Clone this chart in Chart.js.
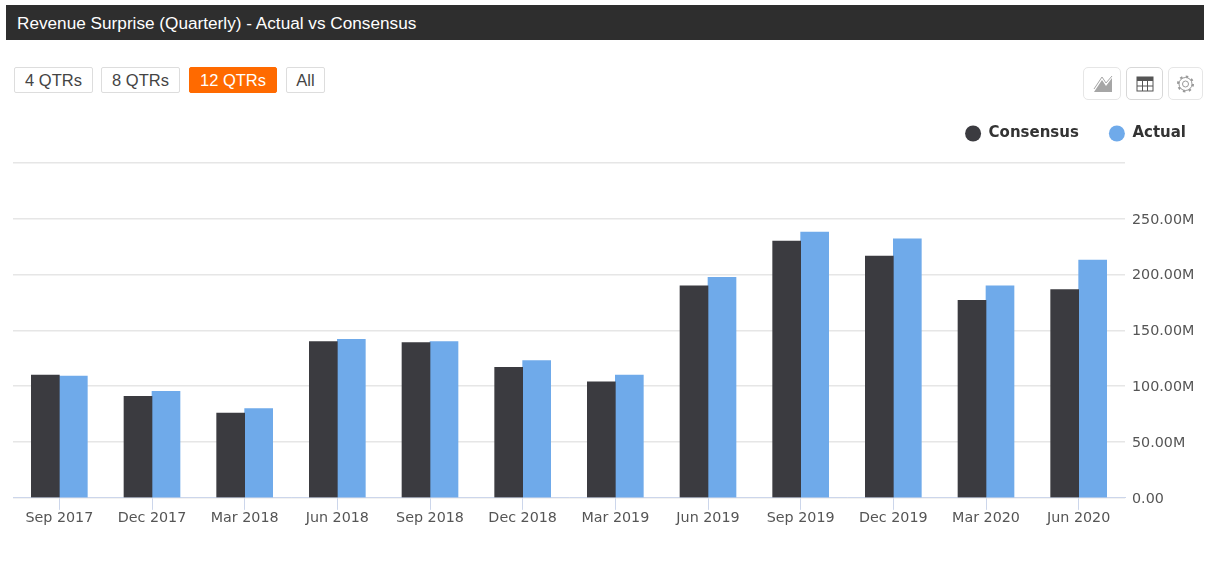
<!DOCTYPE html>
<html>
<head>
<meta charset="utf-8">
<title>Revenue Surprise</title>
<script src="https://cdn.jsdelivr.net/npm/chart.js@4/dist/chart.umd.min.js"></script>
<style>
  html, body { margin: 0; padding: 0; background: #fff; }
  body { position: relative; width: 1217px; height: 569px; overflow: hidden; font-family: "Liberation Sans", sans-serif; }
  .header { position: absolute; left: 6px; top: 5px; width: 1198px; height: 35px; background: #2e2e2e; color: #fff; font-size: 17.2px; line-height: 36px; padding-left: 11px; box-sizing: border-box; }
  .btn { position: absolute; top: 67px; height: 26px; box-sizing: border-box; border: 1px solid #ddd; border-radius: 2px; color: #444; font-size: 16.5px; line-height: 25px; text-align: center; background: #fff; }
  .btn.on { background: #ff6a00; border-color: #ff6a00; color: #fff; }
  .tool { position: absolute; top: 67px; height: 33px; box-sizing: border-box; border: 1px solid #e6e6e6; border-radius: 5px; background: #fff; }
  .tool svg { position: absolute; left: 0; top: 0; }
  #wrap { position: absolute; left: 0; top: 108px; width: 1217px; height: 419px; }
</style>
</head>
<body>
<div class="header">Revenue Surprise (Quarterly) - Actual vs Consensus</div>
<div class="btn" style="left:14px;width:79px">4 QTRs</div>
<div class="btn" style="left:101px;width:79px">8 QTRs</div>
<div class="btn on" style="left:189px;width:88px">12 QTRs</div>
<div class="btn" style="left:286px;width:39px">All</div>

<div class="tool" style="left:1083px;width:38px">
  <svg width="36" height="31"><path d="M10 24 L18 12 L22 18 L28 10 L28 24 Z" fill="#a6a6a6"/><path d="M10 21 L18 9 L22 15 L28 8" fill="none" stroke="#a6a6a6"/></svg>
</div>
<div class="tool" style="left:1126px;width:37px;border-color:#d8d8d8">
  <svg width="35" height="31"><rect x="10" y="9" width="16" height="14" fill="none" stroke="#555"/><rect x="10" y="9" width="16" height="4" fill="#555"/><path d="M15.5 13V23M20.5 13V23M10 18H26" stroke="#555"/></svg>
</div>
<div class="tool" style="left:1168px;width:35px">
  <svg width="33" height="31"><circle cx="16.500" cy="16" r="3" fill="none" stroke="#999"/><circle cx="16.500" cy="16" r="6.500" fill="none" stroke="#999" stroke-width="1"/><circle cx="16.500" cy="16" r="7.500" fill="none" stroke="#999" stroke-width="2" stroke-dasharray="2.500 3.390"/></svg>
</div>

<div id="wrap"><canvas id="chart"></canvas></div>

<script>
const quarters = ["Sep 2017", "Dec 2017", "Mar 2018", "Jun 2018", "Sep 2018", "Dec 2018",
  "Mar 2019", "Jun 2019", "Sep 2019", "Dec 2019", "Mar 2020", "Jun 2020"];
const consensus = [110, 91, 76, 140, 139, 117, 104, 190, 230, 216.5, 177, 186.5];
const actual = [109, 95.5, 80, 142, 140, 123, 110, 197.5, 238, 232, 190, 213];
const yTicks = [0, 50, 100, 150, 200, 250, 300];

const axisFont = { family: "'DejaVu Sans'", size: 14.3 };

// legend sits a little left of the canvas edge and higher than its box
const legendNudge = {
  id: "legendNudge",
  afterLayout(chart) {
    chart.legend.left -= 1;
    chart.legend.right -= 1;
    chart.legend.top -= 12;
    chart.legend.bottom -= 12;
  }
};

new Chart(document.getElementById("chart"), {
  type: "bar",
  data: {
    labels: quarters,
    datasets: [
      { label: "Consensus", data: consensus, backgroundColor: "#3b3b40", barThickness: 28 },
      { label: "Actual", data: actual, backgroundColor: "#6faaea", barThickness: 28 }
    ]
  },
  plugins: [legendNudge],
  options: {
    responsive: true,
    maintainAspectRatio: false,
    animation: false,
    layout: { padding: { left: 13, right: 0, top: 0, bottom: 0 } },
    plugins: {
      tooltip: { enabled: false },
      legend: {
        position: "top",
        align: "end",
        labels: {
          usePointStyle: true,
          pointStyle: "circle",
          pointStyleWidth: 16,
          boxHeight: 11.3,
          padding: 30,
          color: "#333",
          font: { family: "'DejaVu Sans'", size: 15, weight: "bold" }
        }
      }
    },
    scales: {
      x: {
        grid: { drawOnChartArea: false, offset: false, color: "#ccd6eb", tickLength: 12 },
        border: { color: "#ccd6eb" },
        ticks: { color: "#555", font: axisFont, padding: 0, maxRotation: 0, autoSkip: false }
      },
      y: {
        position: "right",
        min: 0,
        max: 300,
        afterFit: (axis) => { axis.width = 92; },
        afterBuildTicks: (axis) => { axis.ticks = yTicks.map(v => ({ value: v })); },
        grid: { color: "#e6e6e6", drawTicks: false, lineWidth: 1.500 },
        border: { display: false },
        ticks: {
          color: "#555",
          font: axisFont,
          padding: 7,
          labelOffset: 1,
          callback: (v) => v === 300 ? "" : v === 0 ? "0.00" : v.toFixed(2) + "M"
        }
      }
    }
  }
});
</script>
</body>
</html>
